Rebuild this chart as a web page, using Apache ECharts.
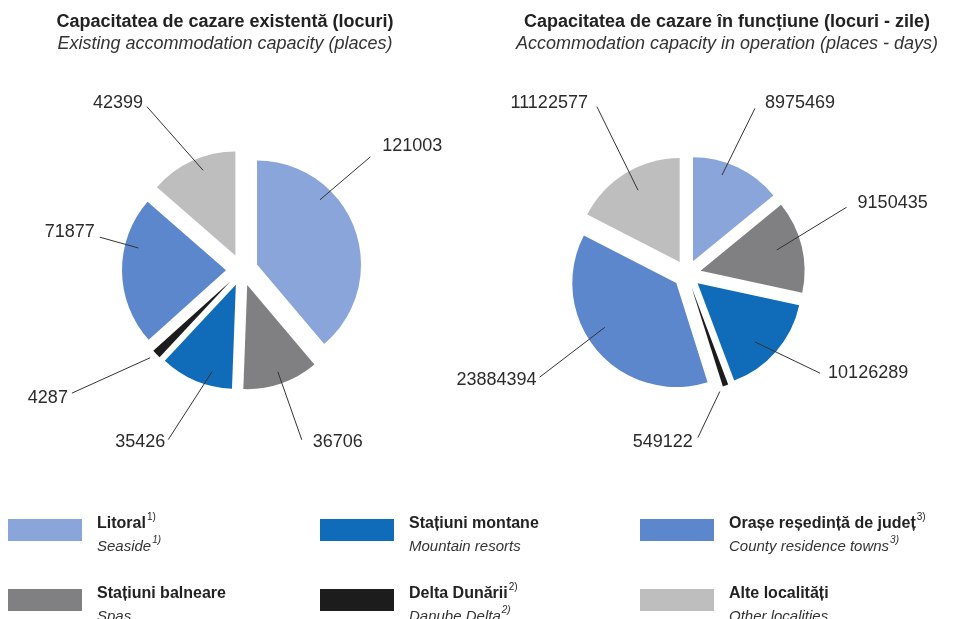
<!DOCTYPE html>
<html>
<head>
<meta charset="utf-8">
<script src="https://cdn.jsdelivr.net/npm/echarts@6/dist/echarts.min.js"></script>
<style>
  html, body { margin: 0; padding: 0; background: #ffffff; }
  #chart { width: 954px; height: 619px; }
</style>
</head>
<body>
<div id="chart"></div>
<script>
// Tourist destination types (Romanian name, English name, footnote mark)
const categoriesRo = ['Litoral', 'Stațiuni balneare', 'Stațiuni montane', 'Delta Dunării', 'Orașe reședință de județ', 'Alte localități'];
const categoriesEn = ['Seaside', 'Spas', 'Mountain resorts', 'Danube Delta', 'County residence towns', 'Other localities'];
const footnotes = ['1)', '', '', '2)', '3)', ''];

// Existing accommodation capacity (places)
const existingPlaces = [121003, 36706, 35426, 4287, 71877, 42399];
// Accommodation capacity in operation (places - days)
const placesDays = [8975469, 9150435, 10126289, 549122, 23884394, 11122577];

const sliceColors = ['#89A5D9', '#808082', '#106CB9', '#1C1C1C', '#5C87CC', '#BEBEBE'];
const FONT = "'Liberation Sans', Arial, Helvetica, sans-serif";

// Pie geometry
const leftPie = { cx: 242, cy: 270, r: 104, offset: 16 };
const rightPie = { cx: 687, cy: 274, r: 104, offset: 14 };

// Leader line placement per slice: [inner angle, inner radius, outer angle, outer radius, text dx, text dy]
// (angles in degrees, clockwise from 12 o'clock, radii measured from the pie centre)
const leftLeaders = [
  [48, 105, 48.6, 171, 12, -11],
  [160.6, 108, 160.6, 180, 11, 2],
  [196.4, 106, 203.5, 185, -3, 2],
  [226.3, 127, 234.1, 210, -4, 5],
  [282, 106, 283, 146, -5, -5],
  [338.7, 107, 329.8, 189, -4, -4]
];
const rightLeaders = [
  [19.5, 105, 22.3, 179, 10, -5],
  [75, 93, 67.3, 173, 11, -4],
  [135, 96, 126.7, 166, 8, 0],
  [164.4, 122, 176.2, 164, -5, 4],
  [237, 98, 235, 180, -3, 3],
  [329.7, 97, 331.7, 190, -9, -4]
];

function sliceData(values, selected) {
  return categoriesRo.map((name, i) => ({
    name: name,
    value: values[i],
    selected: selected,
    itemStyle: { color: sliceColors[i] }
  }));
}

function polar(geom, angleDeg, r) {
  const a = angleDeg * Math.PI / 180;
  return [geom.cx + r * Math.sin(a), geom.cy - r * Math.cos(a)];
}

function leaderLayout(geom, leaders) {
  return function (params) {
    const s = leaders[params.dataIndex];
    const inner = polar(geom, s[0], s[1]);
    const outer = polar(geom, s[2], s[3]);
    return {
      x: outer[0] + s[4],
      y: outer[1] + s[5],
      align: s[4] < 0 ? 'right' : 'left',
      verticalAlign: 'middle',
      labelLinePoints: [inner, outer, outer]
    };
  };
}

// Exploded slices
function slicesSeries(geom, values) {
  return {
    type: 'pie',
    z: 2,
    center: [geom.cx, geom.cy],
    radius: geom.r,
    startAngle: 90,
    clockwise: true,
    selectedMode: 'multiple',
    selectedOffset: geom.offset,
    animation: false,
    label: { show: false },
    labelLine: { show: false },
    itemStyle: { borderWidth: 0 },
    emphasis: { disabled: true },
    data: sliceData(values, true)
  };
}

// Value labels with leader lines (transparent copy of the pie, drawn on top)
function labelSeries(geom, values, leaders) {
  return {
    type: 'pie',
    z: 5,
    center: [geom.cx, geom.cy],
    radius: geom.r,
    startAngle: 90,
    clockwise: true,
    silent: true,
    animation: false,
    avoidLabelOverlap: false,
    itemStyle: { color: 'rgba(0,0,0,0)', borderWidth: 0 },
    emphasis: { disabled: true },
    label: {
      show: true,
      position: 'outside',
      formatter: '{c}',
      color: '#2b2b2b',
      fontSize: 18,
      fontFamily: FONT
    },
    labelLine: { show: true, length: 10, length2: 10, lineStyle: { color: '#333333', width: 1 } },
    labelLayout: leaderLayout(geom, leaders),
    data: categoriesRo.map((name, i) => ({ name: name, value: values[i], itemStyle: { color: 'rgba(0,0,0,0)' } }))
  };
}

function legendEntry(idx, left, top) {
  return {
    data: [categoriesRo[idx]],
    left: left,
    top: top,
    padding: 0,
    icon: 'rect',
    itemWidth: 74,
    itemHeight: 22,
    selectedMode: false,
    formatter: function (name) {
      const i = categoriesRo.indexOf(name);
      const sup = footnotes[i] || ' ';
      return '{gap| }\n' +
             '{ro|' + categoriesRo[i] + '}{rs|' + sup + '}\n' +
             '{en|' + categoriesEn[i] + '}{es|' + sup + '}';
    },
    textStyle: {
      fontFamily: FONT,
      rich: {
        gap: { fontSize: 2, lineHeight: 10 },
        ro: { fontSize: 16, fontWeight: 'bold', color: '#222222', fontFamily: FONT, lineHeight: 23, padding: [0, 0, 0, 10] },
        rs: { fontSize: 10, color: '#222222', fontFamily: FONT, lineHeight: 23, verticalAlign: 'top', padding: [0, 0, 0, 1] },
        en: { fontSize: 15, fontStyle: 'italic', color: '#333333', fontFamily: FONT, lineHeight: 23, padding: [0, 0, 0, 10] },
        es: { fontSize: 10, fontStyle: 'italic', color: '#333333', fontFamily: FONT, lineHeight: 23, verticalAlign: 'top', padding: [0, 0, 0, 1] }
      }
    }
  };
}

const chart = echarts.init(document.getElementById('chart'), null, { renderer: 'canvas' });

const titleStyle = { fontSize: 18, fontWeight: 'bold', color: '#222222', fontFamily: FONT };
const subtitleStyle = { fontSize: 18, fontStyle: 'italic', color: '#333333', fontFamily: FONT };

chart.setOption({
  backgroundColor: '#ffffff',
  animation: false,
  title: [
    {
      text: 'Capacitatea de cazare existentă (locuri)',
      subtext: 'Existing accommodation capacity (places)',
      left: 225, top: 13, padding: 0, itemGap: 4, textAlign: 'center',
      textStyle: titleStyle,
      subtextStyle: subtitleStyle
    },
    {
      text: 'Capacitatea de cazare în funcțiune (locuri - zile)',
      subtext: 'Accommodation capacity in operation (places - days)',
      left: 727, top: 13, padding: 0, itemGap: 4, textAlign: 'center',
      textStyle: titleStyle,
      subtextStyle: subtitleStyle
    }
  ],
  legend: [
    legendEntry(0, 8, 506),
    legendEntry(2, 320, 506),
    legendEntry(4, 640, 506),
    legendEntry(1, 8, 576),
    legendEntry(3, 320, 576),
    legendEntry(5, 640, 576)
  ],
  series: [
    slicesSeries(leftPie, existingPlaces),
    slicesSeries(rightPie, placesDays),
    labelSeries(leftPie, existingPlaces, leftLeaders),
    labelSeries(rightPie, placesDays, rightLeaders)
  ]
});
</script>
</body>
</html>
